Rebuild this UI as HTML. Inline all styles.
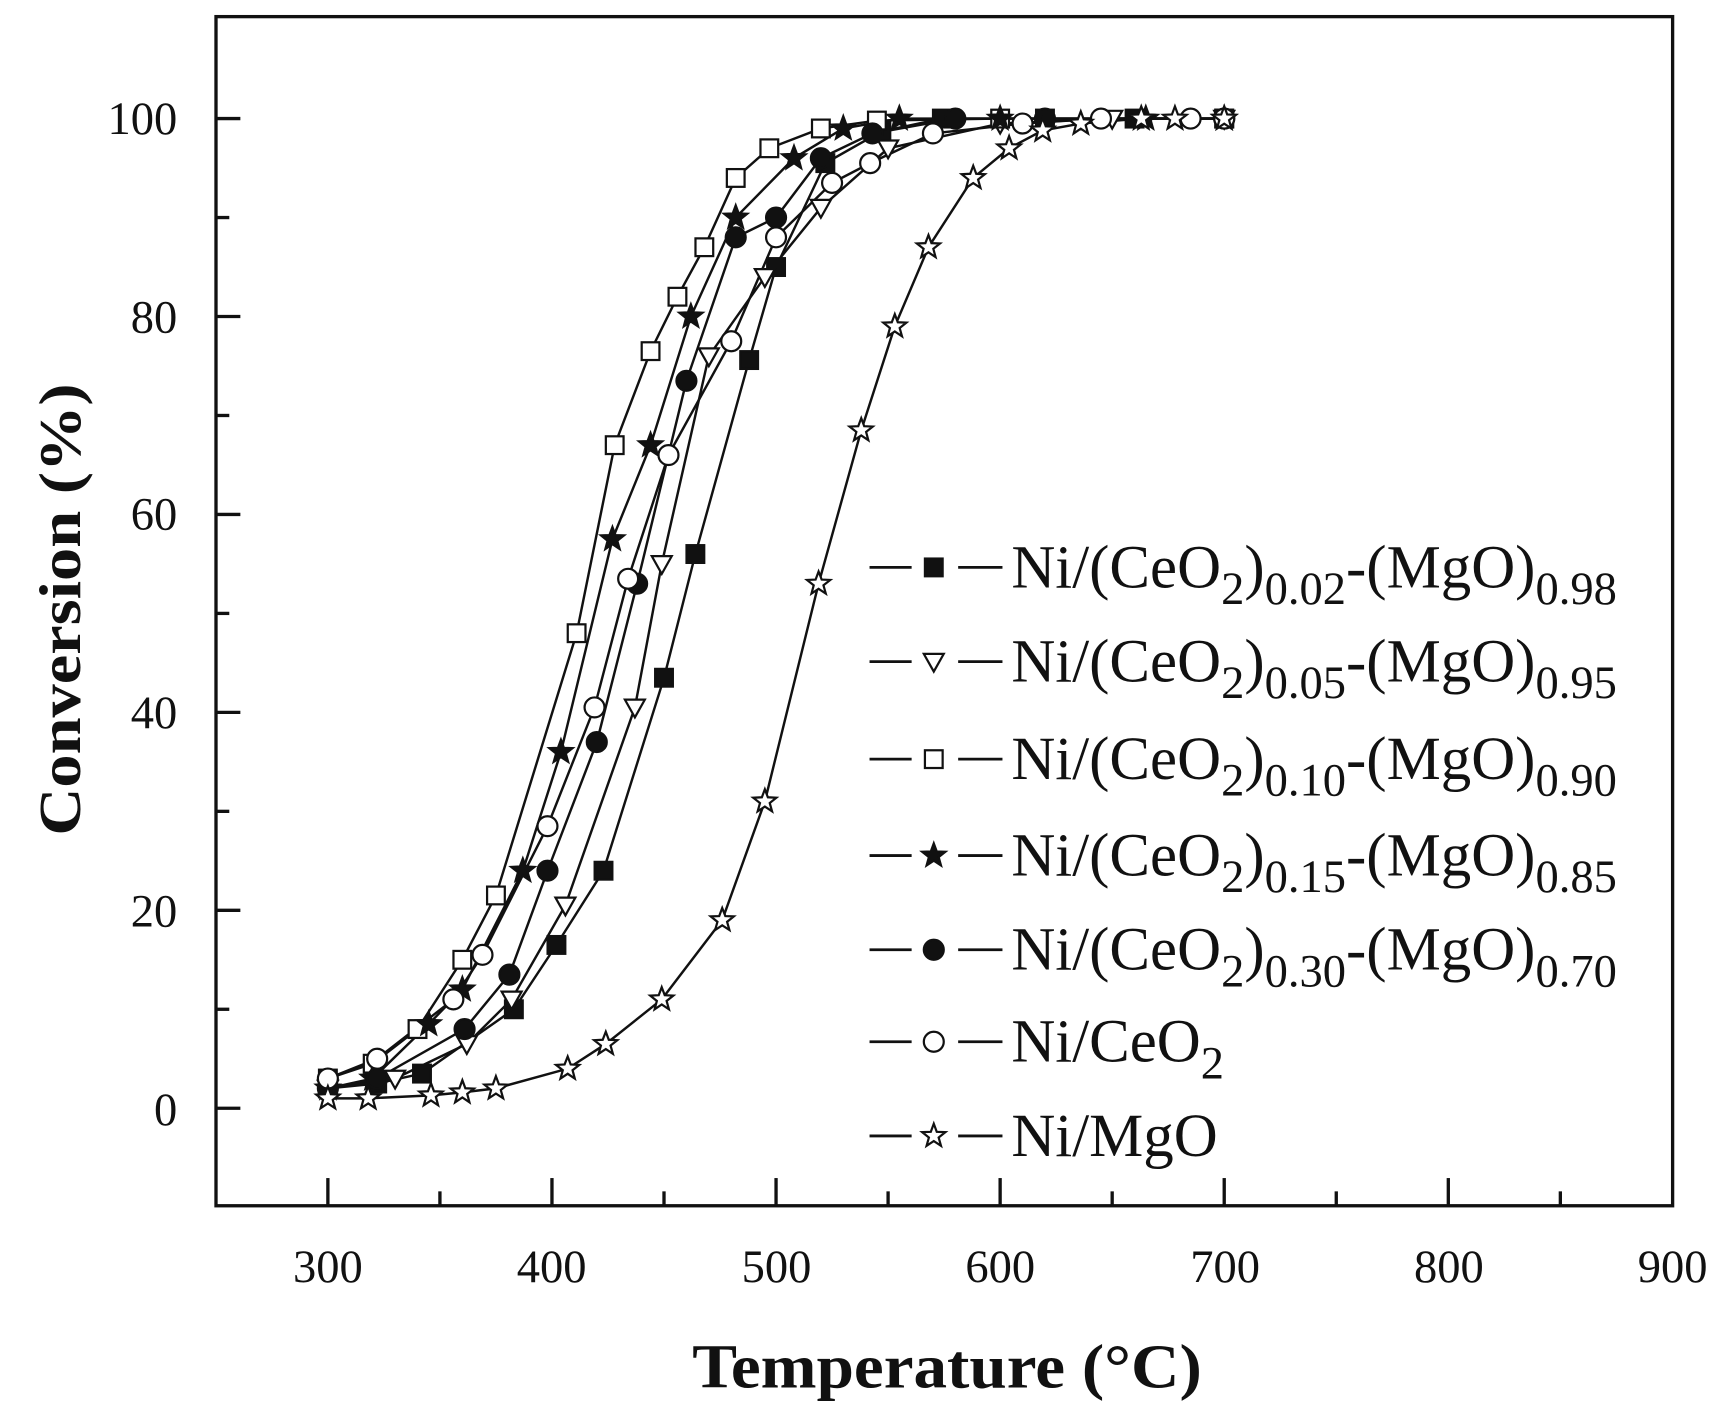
<!DOCTYPE html>
<html><head><meta charset="utf-8"><style>
html,body{margin:0;padding:0;background:#fff;}
svg{display:block;}
text{font-family:"Liberation Serif",serif;fill:#111;}
</style></head><body>
<svg id="s" width="1728" height="1413" viewBox="0 0 1560 1275" preserveAspectRatio="none" xmlns="http://www.w3.org/2000/svg">
<rect x="195" y="15" width="1315" height="1073" fill="none" stroke="#111" stroke-width="3"/>
<g id="ticks" stroke="#111" stroke-width="3"></g>
<g font-size="42" text-anchor="end">
<text x="160" y="121">100</text>
<text x="160" y="300">80</text>
<text x="160" y="478">60</text>
<text x="160" y="657">40</text>
<text x="160" y="836">20</text>
<text x="160" y="1015">0</text>
</g>
<g font-size="42" text-anchor="middle">
<text x="296" y="1157">300</text>
<text x="498" y="1157">400</text>
<text x="701" y="1157">500</text>
<text x="903" y="1157">600</text>
<text x="1106" y="1157">700</text>
<text x="1308" y="1157">800</text>
<text x="1510" y="1157">900</text>
</g>
<text x="625" y="1252" font-size="56" font-weight="bold" textLength="460" lengthAdjust="spacingAndGlyphs">Temperature (°C)</text>
<text transform="translate(72,754) rotate(-90)" font-size="54" font-weight="bold" textLength="408" lengthAdjust="spacingAndGlyphs">Conversion (%)</text>
<g id="lines" fill="none" stroke="#111" stroke-width="2.2"></g>
<g id="marks" stroke="#111" stroke-width="2"></g>
<g id="leg" font-size="55"></g>
</svg>
<script>
var NS="http://www.w3.org/2000/svg";
function X(t){return 296+(t-300)*2.023;}
function Y(c){return 1000-c*8.93;}
function el(p,tag,a){var e=document.createElementNS(NS,tag);for(var k in a)e.setAttribute(k,a[k]);p.appendChild(e);return e;}
var tk=document.getElementById('ticks');
for(var c=0;c<=100;c+=10){var maj=(c%20==0);el(tk,'line',{x1:195,x2:195+(maj?22:12),y1:Y(c),y2:Y(c)});}
for(var t=300;t<=850;t+=50){var maj=(t%100==0);el(tk,'line',{x1:X(t),x2:X(t),y1:1088,y2:1088-(maj?25:13)});}
var S=[
{m:'fsq',d:[[300,2],[322,2.5],[342,3.5],[383,10],[402,16.5],[423,24],[450,43.5],[464,56],[488,75.6],[500,85],[522,95.5],[547,98.7],[574,100],[620,100],[660,100],[700,100]]},
{m:'tri',d:[[300,2],[330,3],[362,6.5],[382,11],[406,20.5],[437,40.5],[449,55],[470,76],[495,84],[520,91],[550,97],[600,99.5],[650,100],[700,100]]},
{m:'osq',d:[[300,3],[320,4.5],[340,8],[360,15],[375,21.5],[411,48],[428,67],[444,76.5],[456,82],[468,87],[482,94],[497,97],[520,99],[545,99.8],[600,100],[700,100]]},
{m:'fst',d:[[300,2],[320,3],[345,8.5],[360,12],[387,24],[404,36],[427,57.5],[444,67],[462,80],[482,90],[508,96],[530,99],[555,100],[600,100],[665,100],[700,100]]},
{m:'fci',d:[[300,2],[322,3],[361,8],[381,13.5],[398,24],[420,37],[438,53],[460,73.5],[482,88],[500,90],[520,96],[543,98.5],[580,100],[620,100],[700,100]]},
{m:'oci',d:[[300,3],[322,5],[356,11],[369,15.5],[398,28.5],[419,40.5],[434,53.5],[452,66],[480,77.5],[500,88],[525,93.5],[542,95.5],[570,98.5],[610,99.5],[645,100],[685,100],[700,100]]},
{m:'ost',d:[[300,1],[318,1],[346,1.3],[360,1.6],[375,2],[407,4],[424,6.5],[449,11],[476,19],[495,31],[519,53],[538,68.5],[553,79],[568,87],[588,94],[604,97],[619,98.8],[636,99.5],[663,100],[678,100],[700,100]]}
];
function star(x,y,r){var p=[];for(var i=0;i<10;i++){var a=-Math.PI/2+i*Math.PI/5,rr=i%2?r*0.42:r;p.push((x+rr*Math.cos(a)).toFixed(1)+','+(y+rr*Math.sin(a)).toFixed(1));}return p.join(' ');}
function mark(g,m,x,y){
 if(m=='fsq')el(g,'rect',{x:x-8,y:y-8,width:16,height:16,fill:'#111'});
 if(m=='osq')el(g,'rect',{x:x-8,y:y-8,width:16,height:16,fill:'#fff'});
 if(m=='tri')el(g,'polygon',{points:(x-9)+','+(y-7)+' '+(x+9)+','+(y-7)+' '+x+','+(y+9),fill:'#fff'});
 if(m=='fci')el(g,'circle',{cx:x,cy:y,r:9,fill:'#111'});
 if(m=='oci')el(g,'circle',{cx:x,cy:y,r:9,fill:'#fff'});
 if(m=='fst')el(g,'polygon',{points:star(x,y,11),fill:'#111'});
 if(m=='ost')el(g,'polygon',{points:star(x,y,11),fill:'#fff'});
}
var L=document.getElementById('lines'),M=document.getElementById('marks');
S.forEach(function(s){el(L,'polyline',{points:s.d.map(function(p){return X(p[0]).toFixed(1)+','+Y(p[1]).toFixed(1);}).join(' ')});});
S.forEach(function(s){s.d.forEach(function(p){mark(M,s.m,X(p[0]),Y(p[1]));});});
var G=document.getElementById('leg');
var labs=[['0.02','0.98'],['0.05','0.95'],['0.10','0.90'],['0.15','0.85'],['0.30','0.70']];
var ys=[512,597,685,772,857,940,1025];
ys.forEach(function(y,i){
 el(G,'line',{x1:785,x2:823,y1:y,y2:y,stroke:'#111','stroke-width':2.5});
 el(G,'line',{x1:865,x2:905,y1:y,y2:y,stroke:'#111','stroke-width':2.5});
 var g=el(G,'g',{}); mark(g,S[i].m,843,y); g.setAttribute('stroke','#111'); g.setAttribute('stroke-width','2');
 var tx=el(G,'text',{x:0,y:0,transform:'translate(913,'+(y+18)+') scale(1.0,1)'});
 if(i<5){
  tx.innerHTML='Ni/(CeO<tspan font-size="42" dy="15">2</tspan><tspan dy="-15">)</tspan><tspan font-size="42" dy="15">'+labs[i][0]+'</tspan><tspan dy="-15">-(MgO)</tspan><tspan font-size="42" dy="15">'+labs[i][1]+'</tspan>';
 } else if(i==5){
  tx.innerHTML='Ni/CeO<tspan font-size="42" dy="15">2</tspan>';
 } else tx.textContent='Ni/MgO';
});
</script>
</body></html>
